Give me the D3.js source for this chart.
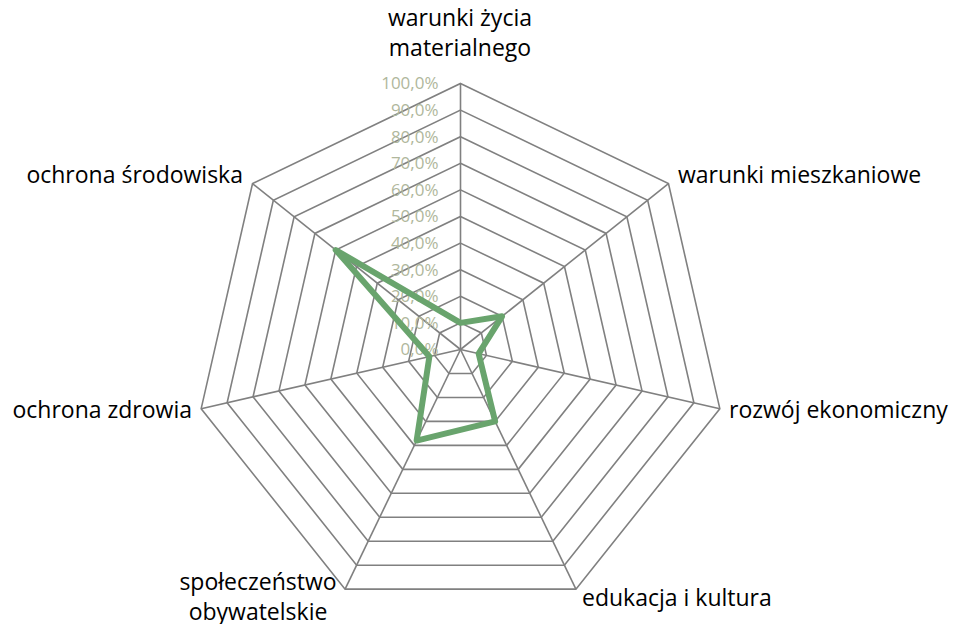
<!doctype html>
<html lang="pl">
<head>
<meta charset="utf-8">
<style>
	body{margin:0;background:#fff;}
	svg{display:block;}
</style>
</head>
<body>
<div id="wykres"></div>
<script src="https://d3js.org/d3.v7.min.js"></script>
<script>

// osie wykresu radarowego
var kategorie = [
	["warunki życia", "materialnego"],
	["warunki mieszkaniowe"],
	["rozwój ekonomiczny"],
	["edukacja i kultura"],
	["społeczeństwo", "obywatelskie"],
	["ochrona zdrowia"],
	["ochrona środowiska"]
];

var wartosci = [0.10, 0.20, 0.07, 0.30, 0.38, 0.12, 0.60];

var poziomy = [0, 0.1, 0.2, 0.3, 0.4, 0.5, 0.6, 0.7, 0.8, 0.9, 1.0];

var w = 958, h = 624;
var cx = 460.5, cy = 349.5, R = 266;

var svg = d3.select("#wykres").append("svg").attr("width", w).attr("height", h);

var r = d3.scaleLinear().domain([0, 1]).range([0, R]);
var kat = d3.scaleLinear().domain([0, kategorie.length]).range([0, 2 * Math.PI]);

function punkt(i, v){
	var a = kat(i);
	return [cx + r(v) * Math.sin(a), cy - r(v) * Math.cos(a)];
}

var linia = d3.line().curve(d3.curveLinearClosed);

// pierścienie siatki
svg.append("g").selectAll("path").data(poziomy.slice(1)).enter().append("path")
	.attr("d", function(p){ return linia(kategorie.map(function(k, i){ return punkt(i, p); })); })
	.attr("fill", "none").attr("stroke", "#808080").attr("stroke-width", 1.6);

// szprychy
svg.append("g").selectAll("line").data(kategorie).enter().append("line")
	.attr("x1", cx).attr("y1", cy)
	.attr("x2", function(d, i){ return punkt(i, 1)[0]; })
	.attr("y2", function(d, i){ return punkt(i, 1)[1]; })
	.attr("stroke", "#808080").attr("stroke-width", 1.6);

// etykiety procentowe
var fmt = function(v){ return (v * 100).toFixed(1).replace(".", ",") + "%"; };
svg.append("g").selectAll("text").data(poziomy).enter().append("text")
	.text(fmt)
	.attr("x", cx - 22).attr("y", function(p){ return cy - r(p); })
	.attr("dy", "0.35em")
	.attr("text-anchor", "end")
	.attr("fill", "#b0b79c")
	.style("font-family", "'Open Sans', sans-serif")
	.style("font-size", "17px");

// seria danych
svg.append("path")
	.attr("d", linia(wartosci.map(function(v, i){ return punkt(i, v); })))
	.attr("fill", "none").attr("stroke", "#69a46d").attr("stroke-width", 6)
	.attr("stroke-linejoin", "round");

// podpisy kategorii
var podpisy = [
	{x: 460, y: 26, anchor: "middle"},
	{x: 678, y: 183, anchor: "start"},
	{x: 729, y: 418, anchor: "start"},
	{x: 582, y: 606, anchor: "start"},
	{x: 258, y: 590, anchor: "middle"},
	{x: 192, y: 418, anchor: "end"},
	{x: 243, y: 183, anchor: "end"}
];

var etyk = svg.append("g").selectAll("text").data(kategorie).enter().append("text")
	.attr("x", function(d, i){ return podpisy[i].x; })
	.attr("y", function(d, i){ return podpisy[i].y; })
	.attr("text-anchor", function(d, i){ return podpisy[i].anchor; })
	.attr("fill", "#000")
	.style("font-family", "'Open Sans', sans-serif")
	.style("font-size", "23px");

etyk.selectAll("tspan").data(function(d, i){ return d.map(function(t){ return {t: t, x: podpisy[i].x}; }); })
	.enter().append("tspan")
	.attr("x", function(d){ return d.x; })
	.attr("dy", function(d, j){ return j ? 30 : 0; })
	.text(function(d){ return d.t; });

</script>
</body>
</html>
